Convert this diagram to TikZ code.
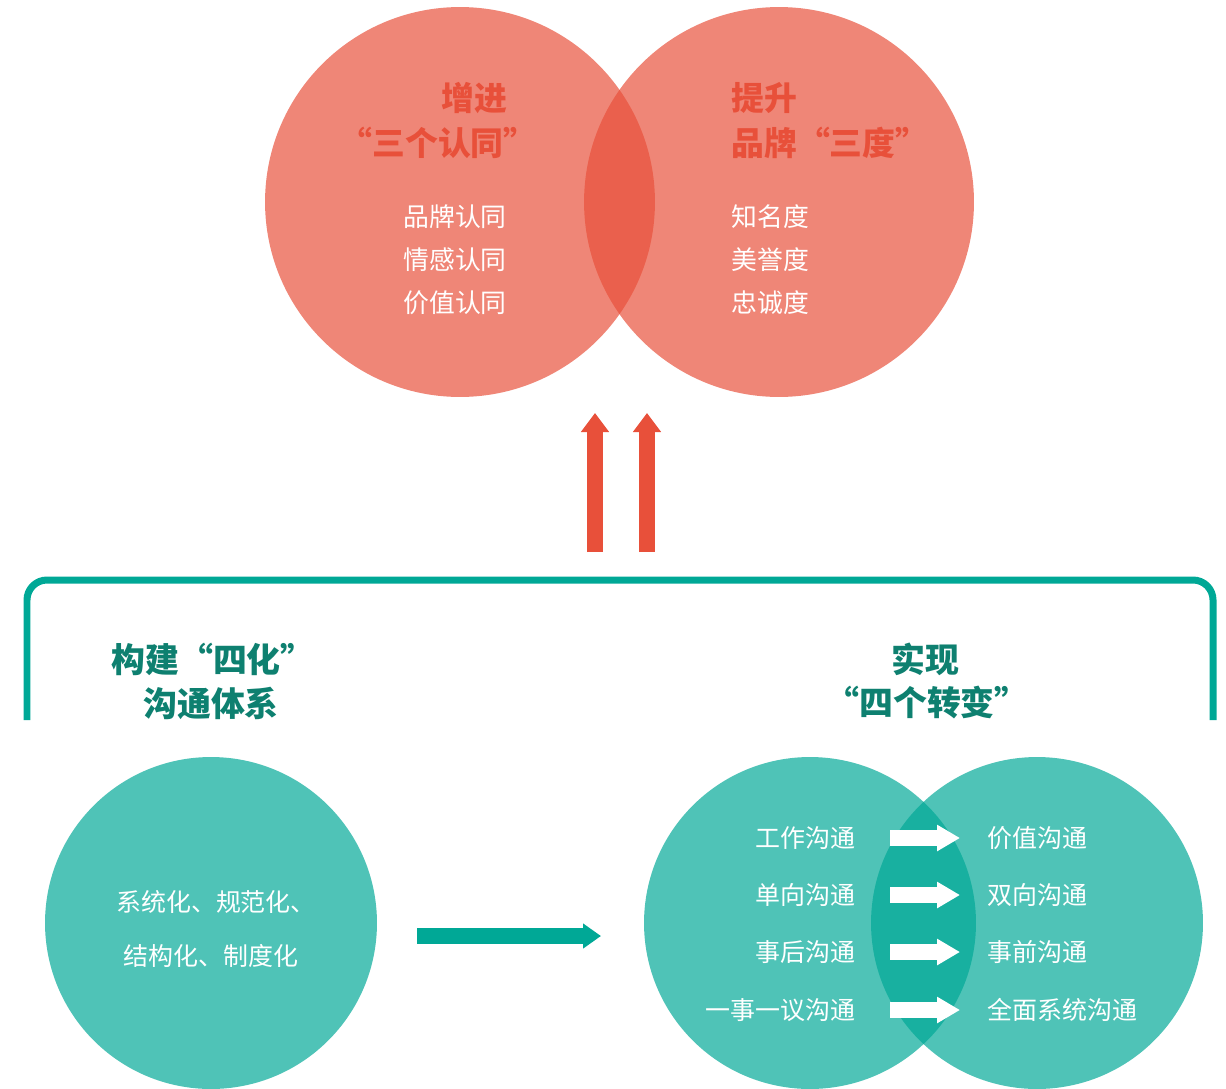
\documentclass[tikz,border=0pt]{standalone}
\usepackage{fontspec}
\setmainfont{Noto Sans CJK SC}
\usetikzlibrary{arrows.meta}
\definecolor{redc}{RGB}{232,80,58}
\definecolor{tealc}{RGB}{0,168,150}
\definecolor{darkteal}{RGB}{14,128,112}

\tikzset{
  bigdisc/.style={circle,minimum size=7.8cm,inner sep=0pt,fill=redc,fill opacity=0.69},
  smalldisc/.style={circle,minimum size=6.64cm,inner sep=0pt,fill=tealc,fill opacity=0.69},
  redtitle/.style={inner sep=0pt,text=redc,font=\fontsize{18.7}{20}\selectfont\bfseries},
  tealtitle/.style={inner sep=0pt,text=darkteal,font=\fontsize{19.3}{21}\selectfont\bfseries},
  redbody/.style={inner sep=0pt,text=white,font=\fontsize{14.7}{16}\selectfont},
  tealbody/.style={inner sep=0pt,text=white,font=\fontsize{14.2}{16}\selectfont},
  upbar/.style={redc,line width=0.33cm,-{Triangle[width=0.54cm,length=0.38cm]}},
  tealbar/.style={tealc,line width=0.32cm,-{Triangle[width=0.48cm,length=0.36cm]}},
  whitebar/.style={white,line width=0.32cm,-{Triangle[width=0.5cm,length=0.46cm]},
    shorten <=0.68cm,shorten >=0.54cm}
}

\begin{document}
\begin{tikzpicture}[x=0.02cm,y=-0.02cm]
\useasboundingbox (0,0) rectangle (1226,1088);
\clip (0,0) rectangle (1226,1088);

% upper pair
\node[bigdisc] (tl) at (460,202) {};
\node[bigdisc] (tr) at (779,202) {};

\node[redtitle] (t1) at (474,98) {增进};
\node[redtitle] (t2) at (438,143) {“三个认同”};
\node[redbody] (a1) at (455,217) {品牌认同};
\node[redbody] (a2) at (455,260) {情感认同};
\node[redbody] (a3) at (455,303) {价值认同};

\node[redtitle,anchor=west] (t3) at (731,98) {提升};
\node[redtitle,anchor=west] (t4) at (731,143) {品牌“三度”};
\node[redbody,anchor=west] (b1) at (731,217) {知名度};
\node[redbody,anchor=west] (b2) at (731,260) {美誉度};
\node[redbody,anchor=west] (b3) at (731,303) {忠诚度};

% arrows up
\coordinate (u1) at (595,552);
\coordinate (u2) at (647,552);
\draw[upbar] (u1) -- (595,413);
\draw[upbar] (u2) -- (647,413);

% bracket
\draw[tealc,line width=0.14cm,rounded corners=0.4cm] (27,720) -- (27,580) -- (1213,580) -- (1213,720);

\node[tealtitle] (c1) at (213,659) {构建“四化”};
\node[tealtitle] (c2) at (211,703) {沟通体系};
\node[tealtitle] (d1) at (925,659) {实现};
\node[tealtitle] (d2) at (927,703) {“四个转变”};

% lower left
\node[smalldisc] (bl) at (211,923) {};
\node[redbody,font=\fontsize{14.2}{15}\selectfont] (s1) at (216,902) {系统化、规范化、};
\node[redbody,font=\fontsize{14.2}{15}\selectfont] (s2) at (211,956) {结构化、制度化};

\coordinate (ta) at (417,936);
\coordinate (tb) at (601,936);
\draw[tealbar] (ta) -- (tb);

% lower right
\node[smalldisc] (br1) at (810,923) {};
\node[smalldisc] (br2) at (1037,923) {};

\node[tealbody,anchor=east] (l1) at (856,838) {工作沟通};
\node[tealbody,anchor=east] (l2) at (856,895) {单向沟通};
\node[tealbody,anchor=east] (l3) at (856,952) {事后沟通};
\node[tealbody,anchor=east] (l4) at (856,1010) {一事一议沟通};

\node[tealbody,anchor=west] (r1) at (987,838) {价值沟通};
\node[tealbody,anchor=west] (r2) at (987,895) {双向沟通};
\node[tealbody,anchor=west] (r3) at (987,952) {事前沟通};
\node[tealbody,anchor=west] (r4) at (987,1010) {全面系统沟通};

\foreach \i in {1,...,4}
  \draw[whitebar] (l\i.east) -- (r\i.west);
\end{tikzpicture}
\end{document}
